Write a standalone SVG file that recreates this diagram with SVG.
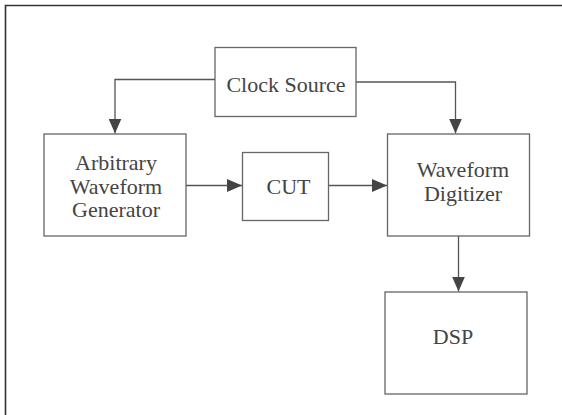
<svg xmlns="http://www.w3.org/2000/svg" width="562" height="415" viewBox="0 0 562 415">
<defs>
<style>
.box{fill:#fff;stroke:#666;stroke-width:1.3}
.lbl{font-size:22px;fill:#444;text-anchor:middle}
.con{fill:none;stroke:#555;stroke-width:1.3}
</style>
<marker id="arr" markerUnits="userSpaceOnUse" markerWidth="15" markerHeight="13" refX="15" refY="6.5" orient="auto">
<path d="M0,0 L15,6.5 L0,13 Z" fill="#444"/>
</marker>
</defs>
<rect width="562" height="415" fill="#fff"/>
<path d="M5.5,415 V5.5 H562" fill="none" stroke="#333" stroke-width="1.6"/>
<g id="connectors">
<path class="con" d="M215,79.5 H115 V133.5" marker-end="url(#arr)"/>
<path class="con" d="M356,82 H455.5 V133.5" marker-end="url(#arr)"/>
<path class="con" d="M186,185.5 H242" marker-end="url(#arr)"/>
<path class="con" d="M329,185.5 H387" marker-end="url(#arr)"/>
<path class="con" d="M458.5,236 V291.5" marker-end="url(#arr)"/>
</g>
<g font-family="Liberation Serif, Times New Roman, serif">
<g id="clock">
<rect class="box" x="215" y="47.5" width="141" height="69"/>
<text class="lbl" x="286" y="92">Clock Source</text>
</g>
<g id="awg">
<rect class="box" x="44" y="134" width="142" height="102"/>
<text class="lbl" x="116" y="170">Arbitrary</text>
<text class="lbl" x="116" y="194">Waveform</text>
<text class="lbl" x="116" y="217">Generator</text>
</g>
<g id="cut">
<rect class="box" x="242.5" y="152.5" width="86" height="68"/>
<text class="lbl" x="288.5" y="194">CUT</text>
</g>
<g id="digitizer">
<rect class="box" x="387.5" y="134" width="142" height="102"/>
<text class="lbl" x="463" y="177">Waveform</text>
<text class="lbl" x="463" y="201">Digitizer</text>
</g>
<g id="dsp">
<rect class="box" x="385" y="292" width="142" height="102"/>
<text class="lbl" x="453" y="344">DSP</text>
</g>
</g>
</svg>
